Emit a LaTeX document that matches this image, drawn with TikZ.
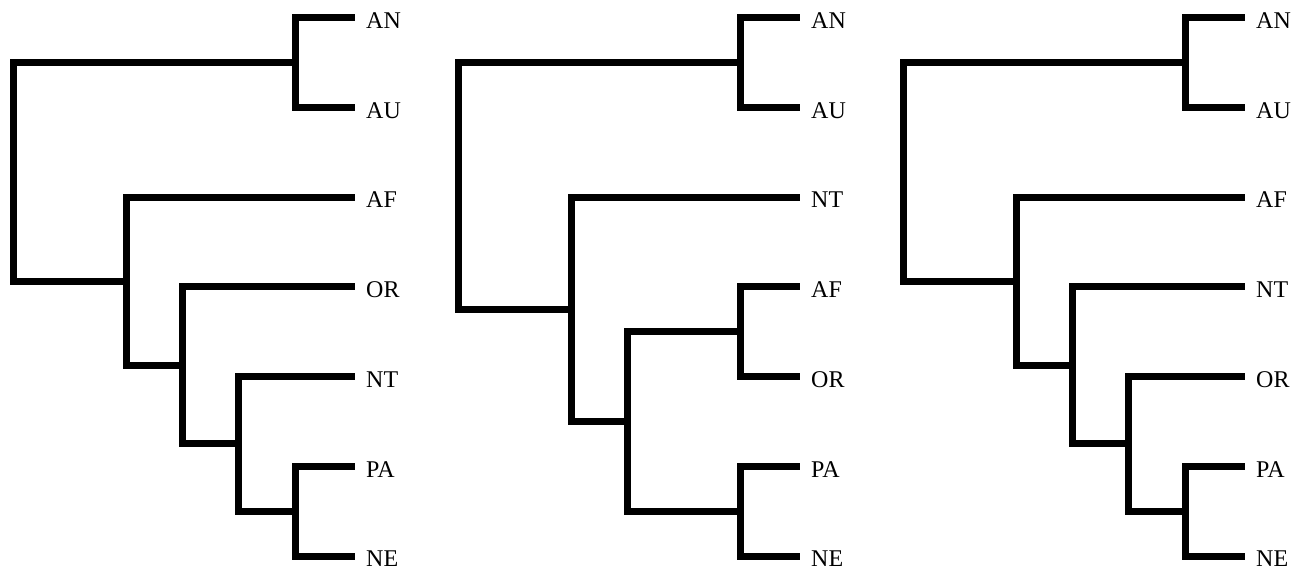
\documentclass[tikz,border=0pt]{standalone}
\usepackage{fontspec}
\setmainfont{Liberation Serif}
% a leaf: tip of its branch plus the taxon label to its right
\newcommand{\cladeleaf}[3]{%
  \coordinate (#1) at (354.5,#2);
  \node[taxon] (#1-lab) at (366,#2+10.8) {#3};}
\begin{document}
\begin{tikzpicture}[x=1pt,y=-1pt,
  branch/.style={line width=7pt, line join=miter, line cap=butt},
  taxon/.style={anchor=base west, inner sep=0pt, font=\fontsize{24}{28}\selectfont}]
\useasboundingbox (0,0) rectangle (1305,572);

% ---------- tree 1: ((AN,AU),(AF,(OR,(NT,(PA,NE))))) ----------
\begin{scope}
  \cladeleaf{a1}{17.5}{AN}
  \cladeleaf{a2}{107.25}{AU}
  \cladeleaf{a3}{197}{AF}
  \cladeleaf{a4}{286.75}{OR}
  \cladeleaf{a5}{376.5}{NT}
  \cladeleaf{a6}{466.25}{PA}
  \cladeleaf{a7}{556}{NE}
  \coordinate (aA) at (295,62.4);
  \coordinate (aE) at (295,511.1);
  \coordinate (aD) at (238.5,443.8);
  \coordinate (aC) at (182,365.3);
  \coordinate (aB) at (126,281.1);
  \coordinate (aR) at (13,171.8);
  \draw[branch] (a1) -| (aA) |- (a2);
  \draw[branch] (a6) -| (aE) |- (a7);
  \draw[branch] (a5) -| (aD) |- (aE);
  \draw[branch] (a4) -| (aC) |- (aD);
  \draw[branch] (a3) -| (aB) |- (aC);
  \draw[branch] (aA) -| (aR) |- (aB);
\end{scope}

% ---------- tree 2: ((AN,AU),(NT,((AF,OR),(PA,NE)))) ----------
\begin{scope}[shift={(445,0)}]
  \cladeleaf{b1}{17.5}{AN}
  \cladeleaf{b2}{107.25}{AU}
  \cladeleaf{b3}{197}{NT}
  \cladeleaf{b4}{286.75}{AF}
  \cladeleaf{b5}{376.5}{OR}
  \cladeleaf{b6}{466.25}{PA}
  \cladeleaf{b7}{556}{NE}
  \coordinate (bA) at (295,62.4);
  \coordinate (bF) at (295,331.6);
  \coordinate (bE) at (295,511.1);
  \coordinate (bG) at (182,421.4);
  \coordinate (bB) at (126,309.2);
  \coordinate (bR) at (13,185.8);
  \draw[branch] (b1) -| (bA) |- (b2);
  \draw[branch] (b4) -| (bF) |- (b5);
  \draw[branch] (b6) -| (bE) |- (b7);
  \draw[branch] (bF) -| (bG) |- (bE);
  \draw[branch] (b3) -| (bB) |- (bG);
  \draw[branch] (bA) -| (bR) |- (bB);
\end{scope}

% ---------- tree 3: ((AN,AU),(AF,(NT,(OR,(PA,NE))))) ----------
\begin{scope}[shift={(890,0)}]
  \cladeleaf{c1}{17.5}{AN}
  \cladeleaf{c2}{107.25}{AU}
  \cladeleaf{c3}{197}{AF}
  \cladeleaf{c4}{286.75}{NT}
  \cladeleaf{c5}{376.5}{OR}
  \cladeleaf{c6}{466.25}{PA}
  \cladeleaf{c7}{556}{NE}
  \coordinate (cA) at (295,62.4);
  \coordinate (cE) at (295,511.1);
  \coordinate (cD) at (238.5,443.8);
  \coordinate (cC) at (182,365.3);
  \coordinate (cB) at (126,281.1);
  \coordinate (cR) at (13,171.8);
  \draw[branch] (c1) -| (cA) |- (c2);
  \draw[branch] (c6) -| (cE) |- (c7);
  \draw[branch] (c5) -| (cD) |- (cE);
  \draw[branch] (c4) -| (cC) |- (cD);
  \draw[branch] (c3) -| (cB) |- (cC);
  \draw[branch] (cA) -| (cR) |- (cB);
\end{scope}
\end{tikzpicture}
\end{document}
